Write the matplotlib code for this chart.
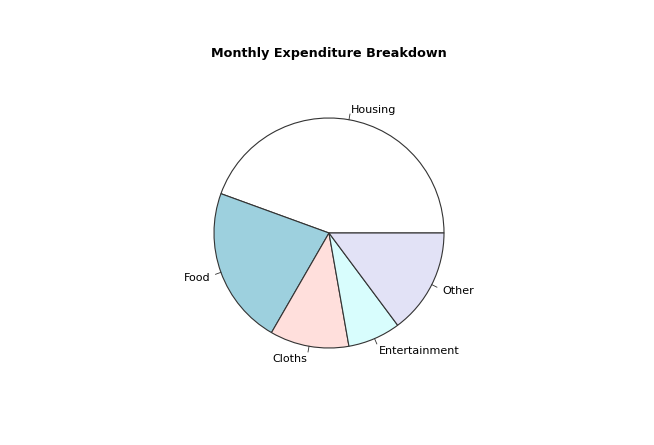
import numpy as np
import matplotlib
matplotlib.use('Agg')
import matplotlib.pyplot as plt

categories = ['Housing', 'Food', 'Cloths', 'Entertainment', 'Other']
expenses = [600, 300, 150, 100, 200]
colors = ['white', '#9dd0de', '#ffdfdc', '#d8fdfd', '#e2e2f6']

fig = plt.figure(figsize=(6.54, 4.45), dpi=100)
W, H = 654, 445
cx, cy, r = 329, 233, 115
a = 1.5
side = 2 * r * a
ax = fig.add_axes([(cx - side / 2) / W, (H - cy - side / 2) / H, side / W, side / H])

ax.pie(expenses, colors=colors, startangle=0, counterclock=True, radius=1,
       wedgeprops=dict(edgecolor='#333333', linewidth=0.8))

# R style labels with small ticks
vals = np.array(expenses, dtype=float)
cum = np.concatenate([[0], np.cumsum(vals)]) / vals.sum()
for i, name in enumerate(categories):
    mid = np.pi * (cum[i] + cum[i + 1])
    c, s = np.cos(mid), np.sin(mid)
    ax.plot([c, 1.05 * c], [s, 1.05 * s], color='#333333', linewidth=0.6)
    ax.text(1.1 * c, 1.1 * s - 0.015, name, ha='left' if c > 0 else 'right',
            va='center', fontsize=8)

ax.set_xlim(-a, a)
ax.set_ylim(-a, a)
ax.set_aspect('equal')
ax.axis('off')

fig.text(329 / W, 1 - 53 / H, 'Monthly Expenditure Breakdown', ha='center',
         va='center', fontsize=9.2, fontweight='bold')

fig.savefig('out.png', dpi=100)
